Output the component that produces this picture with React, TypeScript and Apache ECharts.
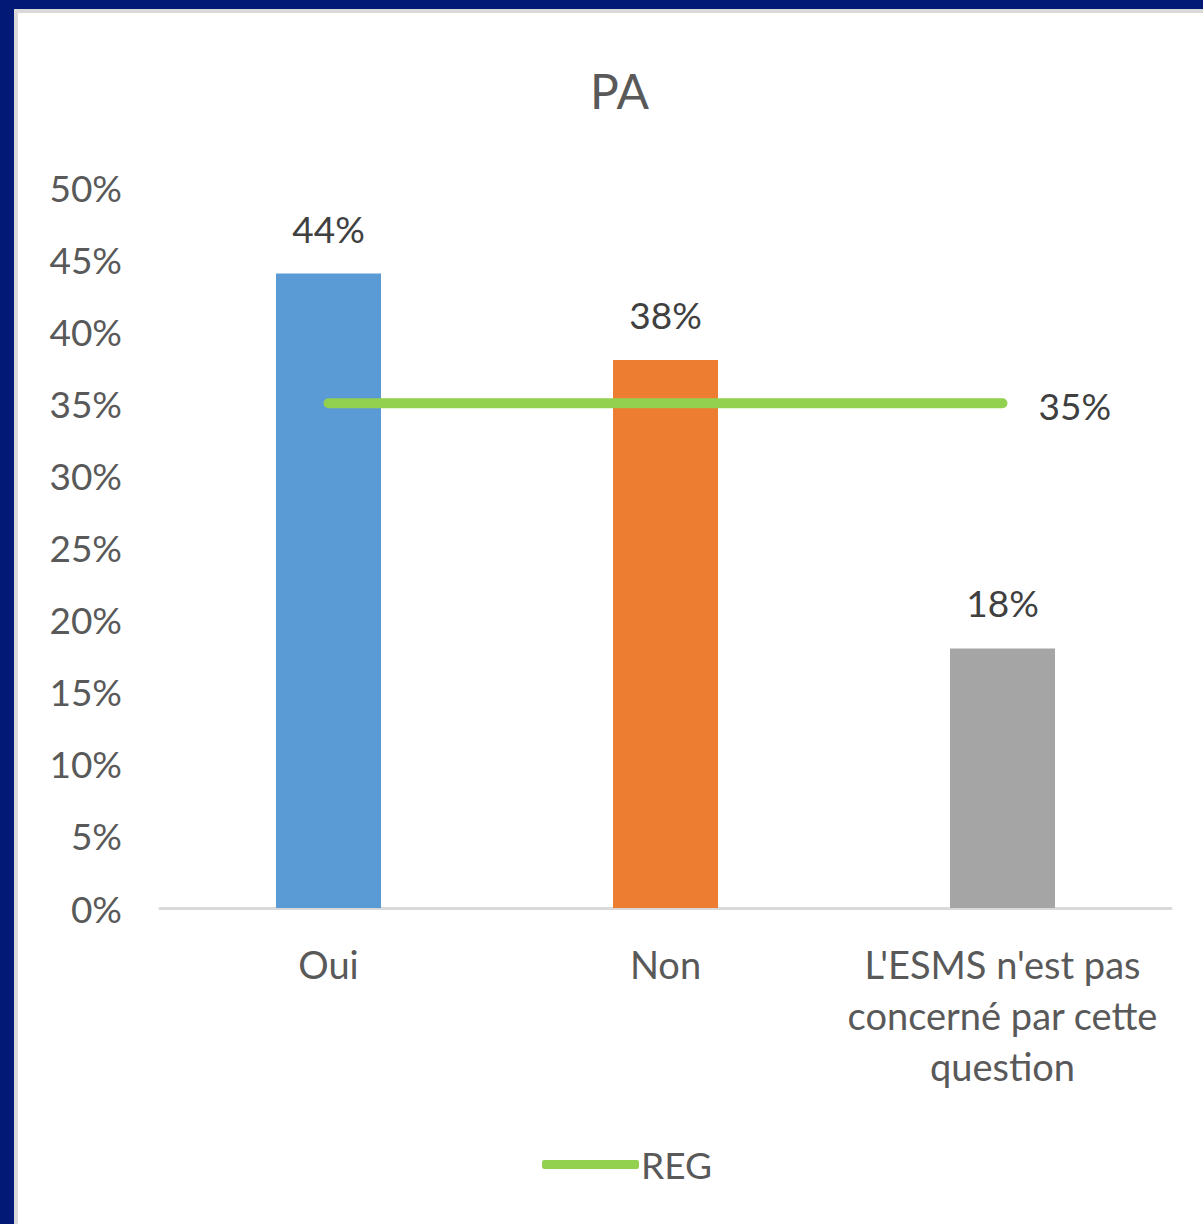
import React, { useEffect, useRef } from "react";
import * as echarts from "echarts";

const categories = ["Oui", "Non", "L'ESMS n'est pas\nconcerné par cette\nquestion"];
const barValues = [44, 38, 18];
const barColors = ["#5B9BD5", "#ED7D31", "#A5A5A5"];
const regValues = [35, 35, 35];
const yTicks = { min: 0, max: 50, interval: 5 };

const FONT = "Lato, 'Open Sans', sans-serif";
const TXT = "#595959";

export default function App() {
  const ref = useRef<HTMLDivElement>(null);
  useEffect(() => {
    const chart = echarts.init(ref.current!, null, { renderer: "svg" });
    chart.setOption({
      animation: false,
      backgroundColor: "transparent",
      textStyle: { fontFamily: FONT },
      title: {
        text: "PA",
        left: 585,
        top: 61,
        textStyle: { fontFamily: FONT, fontSize: 48, fontWeight: "normal", color: TXT },
      },
      legend: {
        data: ["REG"],
        left: 537,
        top: 1141,
        icon: "roundRect",
        itemWidth: 97,
        itemHeight: 9,
        itemGap: 4,
        textStyle: { fontFamily: FONT, fontSize: 37, color: TXT, padding: [0, 0, 0, -3] },
      },
      grid: { left: 160, right: 32, top: 187, bottom: 316, containLabel: false },
      xAxis: {
        type: "category",
        data: categories,
        axisLine: { lineStyle: { color: "#D9D9D9", width: 3 } },
        axisTick: { show: false },
        axisLabel: {
          fontFamily: FONT,
          fontSize: 38,
          color: TXT,
          margin: 30,
          lineHeight: 51,
          interval: 0,
        },
      },
      yAxis: {
        type: "value",
        min: yTicks.min,
        max: yTicks.max,
        interval: yTicks.interval,
        axisLine: { show: false },
        axisTick: { show: false },
        splitLine: { show: false },
        axisLabel: {
          fontFamily: FONT,
          fontSize: 37,
          color: TXT,
          margin: 38,
          formatter: "{value}%",
        },
      },
      series: [
        {
          name: "Bars",
          type: "bar",
          barWidth: 105,
          data: barValues.map((v, i) => ({ value: v, itemStyle: { color: barColors[i] } })),
          label: {
            show: true,
            position: "top",
            distance: 27,
            formatter: "{c}%",
            fontFamily: FONT,
            fontSize: 37,
            color: "#404040",
          },
        },
        {
          name: "REG",
          type: "line",
          data: regValues,
          symbol: "none",
          color: "#92D050",
          lineStyle: { color: "#92D050", width: 10, cap: "round" },
          itemStyle: { color: "#92D050" },
          endLabel: {
            show: true,
            distance: 36,
            formatter: "{c}%",
            fontFamily: FONT,
            fontSize: 37,
            color: "#404040",
            offset: [0, 2],
          },
          z: 5,
        },
      ],
    });
    return () => chart.dispose();
  }, []);
  return (
    <div style={{ position: "absolute", left: 0, top: 0, width: 1203, height: 1224, background: "#021A76", overflow: "hidden" }}>
      <div style={{ position: "absolute", left: 14, top: 9, width: 1189, height: 1215, background: "#D9D9D9" }} />
      <div style={{ position: "absolute", left: 18, top: 13, width: 1185, height: 1211, background: "#FFFFFF" }} />
      <div ref={ref} style={{ position: "absolute", left: 0, top: 0, width: 1203, height: 1224 }} />
    </div>
  );
}
